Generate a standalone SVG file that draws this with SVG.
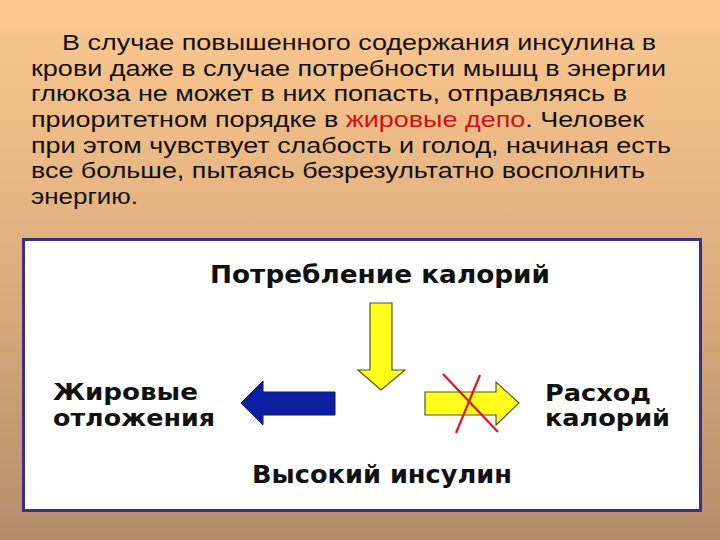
<svg xmlns="http://www.w3.org/2000/svg" width="720" height="540" viewBox="0 0 720 540">
<defs>
<linearGradient id="bg" x1="0" y1="0" x2="0" y2="1">
<stop offset="0" stop-color="#FDC890"/>
<stop offset="0.5" stop-color="#DDAE7D"/>
<stop offset="1" stop-color="#B58D6C"/>
</linearGradient>
<style>
.para{font-family:"Liberation Sans",Arial,sans-serif;font-size:22px;fill:#111}
.lbl{font-family:"DejaVu Sans",Verdana,sans-serif;font-weight:bold;font-size:25px;fill:#111}
.lbl2{font-family:"DejaVu Sans",Verdana,sans-serif;font-weight:bold;font-size:23px;fill:#111}
.yarrow{fill:#FFFF1A;stroke:#555522;stroke-width:1.2;stroke-linejoin:miter}
.barrow{fill:#0A1E9E;stroke:#0A1670;stroke-width:1}
.cross{stroke:#E0141E;stroke-width:2.2;fill:none}
</style>
</defs>
<rect x="0" y="0" width="720" height="540" fill="url(#bg)"/>
<g id="paragraph">
<text class="para" x="62" y="50" textLength="594" lengthAdjust="spacingAndGlyphs">В случае повышенного содержания инсулина в</text>
<text class="para" x="31" y="76" textLength="635" lengthAdjust="spacingAndGlyphs">крови даже в случае потребности мышц в энергии</text>
<text class="para" x="31" y="101" textLength="596" lengthAdjust="spacingAndGlyphs">глюкоза не может в них попасть, отправляясь в</text>
<text class="para" x="31" y="127" textLength="613" lengthAdjust="spacingAndGlyphs">приоритетном порядке в <tspan fill="#D01010">жировые депо</tspan>. Человек</text>
<text class="para" x="31" y="153" textLength="640" lengthAdjust="spacingAndGlyphs">при этом чувствует слабость и голод, начиная есть</text>
<text class="para" x="31" y="178" textLength="614" lengthAdjust="spacingAndGlyphs">все больше, пытаясь безрезультатно восполнить</text>
<text class="para" x="31" y="204" textLength="107" lengthAdjust="spacingAndGlyphs">энергию.</text>
</g>
<g id="panel">
<rect x="23.5" y="239.5" width="677" height="271" fill="#FFFFFF" stroke="#3A2E8C" stroke-width="3"/>
</g>
<g id="node-intake">
<text class="lbl" x="210" y="283" textLength="340" lengthAdjust="spacingAndGlyphs">Потребление калорий</text>
</g>
<g id="node-fat">
<text class="lbl2" x="53" y="400" textLength="145" lengthAdjust="spacingAndGlyphs">Жировые</text>
<text class="lbl2" x="53" y="426" textLength="162" lengthAdjust="spacingAndGlyphs">отложения</text>
</g>
<g id="node-expense">
<text class="lbl2" x="545" y="401" textLength="106" lengthAdjust="spacingAndGlyphs">Расход</text>
<text class="lbl2" x="545" y="426" textLength="125" lengthAdjust="spacingAndGlyphs">калорий</text>
</g>
<g id="node-insulin">
<text class="lbl" x="252" y="483" textLength="260" lengthAdjust="spacingAndGlyphs">Высокий инсулин</text>
</g>
<g id="connectors">
<polygon class="yarrow" points="370,303 392,303 392,370 405,370 381,390 358,370 370,370"/>
<polygon class="barrow" points="335,392 335,415 263,415 263,425 241,403 263,381 263,392"/>
<polygon class="yarrow" points="425,392 496,392 496,382 519,403 496,425 496,415 425,415"/>
<line class="cross" x1="443" y1="374" x2="498" y2="432"/>
<line class="cross" x1="480" y1="375" x2="456" y2="433"/>
</g>
</svg>
